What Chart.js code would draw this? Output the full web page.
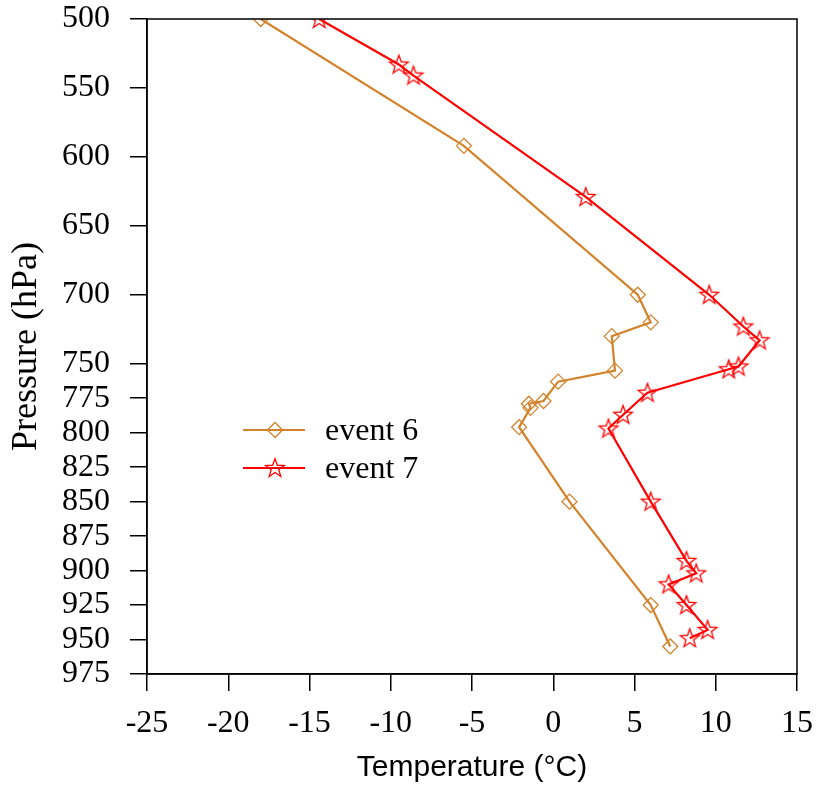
<!DOCTYPE html>
<html>
<head>
<meta charset="utf-8">
<script src="https://cdn.jsdelivr.net/npm/chart.js@4"></script>
<style>
  html, body { margin: 0; padding: 0; background: #fff; }
</style>
</head>
<body>
<canvas id="myChart" width="816" height="791"></canvas>
<script>
// event 6 profile (temperature in C, pressure in hPa)
var event6Temp = [-18.0, -5.5, 5.2, 6.0, 3.6, 3.8, 0.3, -0.6, -1.5, -1.4, -2.1, 1.0, 6.0, 7.2];
var event6Pres = [500, 592, 700, 720, 730, 755, 763, 777, 779, 782, 796, 850, 925, 955];
// event 7 profile
var event7Temp = [-14.4, -9.5, -8.6, 2.0, 9.6, 11.7, 12.7, 11.4, 10.8, 5.8, 4.3, 3.4, 6.0, 8.2, 8.8, 7.1, 8.2, 9.5, 8.4];
var event7Pres = [500, 533, 541, 629, 700, 723, 733, 752, 754, 771, 787, 797, 850, 893, 902, 910, 925, 943, 949];
// axis ticks
var pressureTicks = [500, 550, 600, 650, 700, 750, 775, 800, 825, 850, 875, 900, 925, 950, 975];
var tempTicks = [-25, -20, -15, -10, -5, 0, 5, 10, 15];
var seriesNames = ['event 6', 'event 7'];

var orange = '#D4822A';
var red = '#FF0000';
var serif = "'Liberation Serif', 'Times New Roman', serif";
var sans = "'Liberation Sans', Arial, sans-serif";

function toPoints(temps, pres) {
  return temps.map(function(t, i) { return {x: t, y: pres[i]}; });
}

// hollow five-pointed star used as marker
function makeStar(color) {
  var c = document.createElement('canvas');
  c.width = 24; c.height = 24;
  var g = c.getContext('2d');
  g.strokeStyle = color;
  g.lineWidth = 1.3;
  g.beginPath();
  for (var i = 0; i < 10; i++) {
    var r = i % 2 ? 4 : 9.8;
    var a = -Math.PI / 2 + i * Math.PI / 5;
    var px = 12 + r * Math.cos(a), py = 12.5 + r * Math.sin(a);
    if (i) g.lineTo(px, py); else g.moveTo(px, py);
  }
  g.closePath();
  g.stroke();
  return c;
}
var starMarker = makeStar(red);

// box around the plot area
var frame = {
  id: 'frame',
  afterDraw: function(chart) {
    var a = chart.chartArea, ctx = chart.ctx;
    ctx.save();
    ctx.strokeStyle = '#000';
    ctx.lineWidth = 1.5;
    ctx.strokeRect(a.left, a.top, a.right - a.left, a.bottom - a.top);
    ctx.restore();
  }
};

// legend inside the plot: line + marker + label
var insideLegend = {
  id: 'insideLegend',
  afterDraw: function(chart) {
    var ctx = chart.ctx, a = chart.chartArea;
    var x0 = a.left + 96, x1 = a.left + 158, xm = (x0 + x1) / 2 + 1;
    var rows = [a.top + 411, a.top + 449];
    chart.data.datasets.forEach(function(ds, i) {
      var y = rows[i];
      ctx.save();
      ctx.strokeStyle = ds.borderColor;
      ctx.lineWidth = ds.borderWidth;
      ctx.beginPath();
      ctx.moveTo(x0, y); ctx.lineTo(x1, y);
      ctx.stroke();
      ctx.strokeStyle = ds.pointBorderColor;
      ctx.fillStyle = 'rgba(0,0,0,0)';
      ctx.lineWidth = ds.pointBorderWidth;
      Chart.helpers.drawPoint(ctx, {pointStyle: ds.pointStyle, radius: ds.pointRadius, rotation: 0, borderWidth: ds.pointBorderWidth}, xm, y);
      ctx.fillStyle = '#000';
      ctx.font = '32px ' + serif;
      ctx.textBaseline = 'middle';
      ctx.textAlign = 'left';
      ctx.fillText(ds.label, x1 + 20, y + 2);
      ctx.restore();
    });
  }
};

var ctx = document.getElementById('myChart').getContext('2d');
var chart = new Chart(ctx, {
  type: 'scatter',
  data: {
    datasets: [{
      label: seriesNames[0],
      data: toPoints(event6Temp, event6Pres),
      showLine: true,
      borderColor: orange,
      borderWidth: 2.2,
      pointStyle: 'rectRot',
      pointRadius: 7.5,
      pointBorderColor: orange,
      pointBorderWidth: 1.3,
      pointBackgroundColor: 'rgba(0,0,0,0)',
      tension: 0
    }, {
      label: seriesNames[1],
      data: toPoints(event7Temp, event7Pres),
      showLine: true,
      borderColor: red,
      borderWidth: 2.2,
      pointStyle: starMarker,
      pointRadius: 9,
      pointBorderColor: red,
      pointBorderWidth: 1.3,
      pointBackgroundColor: 'rgba(0,0,0,0)',
      tension: 0
    }]
  },
  options: {
    responsive: false,
    animation: false,
    layout: { padding: { top: 19, right: 19, left: 0, bottom: 0 } },
    plugins: { legend: { display: false }, tooltip: { enabled: false } },
    scales: {
      x: {
        type: 'linear',
        min: -25, max: 15,
        afterBuildTicks: function(axis) { axis.ticks = tempTicks.map(function(v) { return {value: v}; }); },
        afterFit: function(axis) {
          axis.height = 117;
          axis.paddingLeft = 0;
          axis.paddingRight = 0;
        },
        grid: { drawOnChartArea: false, drawTicks: true, tickLength: 17, color: '#000', lineWidth: 1.5 },
        border: { display: true, color: '#000', width: 1.5 },
        ticks: { color: '#000', font: { family: serif, size: 32 }, padding: 13, maxRotation: 0 },
        title: { display: true, text: 'Temperature (\u00B0C)', color: '#000', font: { family: sans, size: 30 }, padding: { top: 0, bottom: 5 } }
      },
      y: {
        type: 'linear',
        reverse: true,
        min: 500, max: 975,
        afterBuildTicks: function(axis) { axis.ticks = pressureTicks.map(function(v) { return {value: v}; }); },
        afterFit: function(axis) {
          axis.width = 147;
          axis.paddingTop = 0;
          axis.paddingBottom = 0;
        },
        grid: { drawOnChartArea: false, drawTicks: true, tickLength: 17, color: '#000', lineWidth: 1.5 },
        border: { display: true, color: '#000', width: 1.5 },
        ticks: { color: '#000', font: { family: serif, size: 32 }, padding: 20 },
        title: { display: true, text: 'Pressure (hPa)', color: '#000', font: { family: serif, size: 36 }, padding: { top: 5, bottom: 0 } }
      }
    }
  },
  plugins: [frame, insideLegend]
});
</script>
</body>
</html>
